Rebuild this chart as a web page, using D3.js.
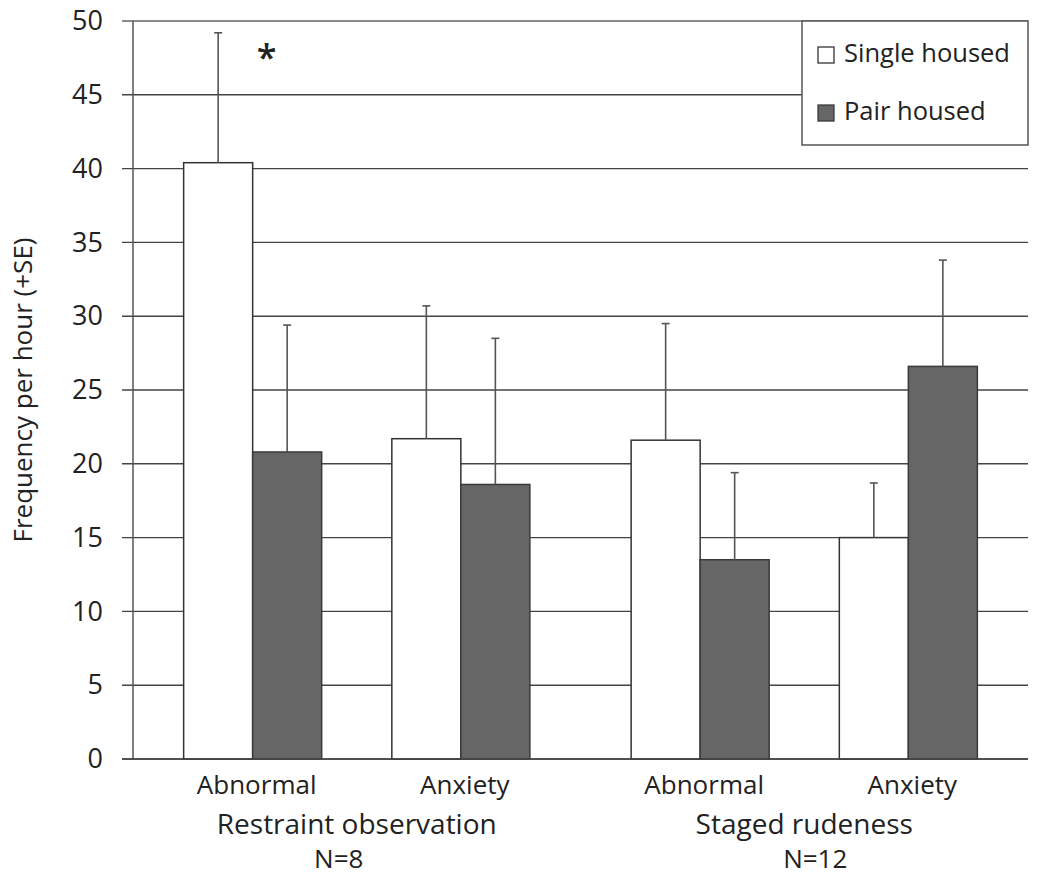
<!DOCTYPE html>
<html>
<head>
<meta charset="utf-8">
<script src="https://cdn.jsdelivr.net/npm/d3@7"></script>
<style>
  body { margin: 0; background: #fff; }
  text { font-family: "Open Sans", sans-serif; fill: #222; }
</style>
</head>
<body>
<div id="chart"></div>
<script>
(function() {

  var groups = ['Restraint observation', 'Staged rudeness'];
  var groupN = ['N=8', 'N=12'];
  var behaviours = ['Abnormal', 'Anxiety'];
  var series = ['Single housed', 'Pair housed'];

  // mean frequency per hour, order: [group][behaviour]
  var singleMeans = [[40.4, 21.7], [21.6, 15.0]];
  var singleSE = [[8.8, 9.0], [7.9, 3.7]];
  var pairMeans = [[20.8, 18.6], [13.5, 26.6]];
  var pairSE = [[8.6, 9.9], [5.9, 7.2]];

  var yTicks = [0, 5, 10, 15, 20, 25, 30, 35, 40, 45, 50];

  var rows = [];
  groups.forEach(function(g, gi) {
    behaviours.forEach(function(b, bi) {
      rows.push({group: g, behaviour: b, series: series[0], mean: singleMeans[gi][bi], se: singleSE[gi][bi]});
      rows.push({group: g, behaviour: b, series: series[1], mean: pairMeans[gi][bi], se: pairSE[gi][bi]});
    });
  });

  var width = 1050, height = 889;
  var left = 133, right = 1028, top = 21, bottom = 759;

  var svg = d3.select('#chart').append('svg')
    .attr('width', width)
    .attr('height', height);

  var y = d3.scaleLinear().domain([0, 50]).range([bottom, top]);

  var outer = d3.scaleBand().domain(groups).range([left, right])
    .paddingInner(0.07).paddingOuter(0.035);
  var inner = d3.scaleBand().domain(behaviours).range([0, outer.bandwidth()])
    .paddingInner(0.337).paddingOuter(0.168);
  var sx = d3.scaleBand().domain(series).range([0, inner.bandwidth()]);
  var fill = d3.scaleOrdinal().domain(series).range(['#ffffff', '#666666']);
  var stroke = d3.scaleOrdinal().domain(series).range(['#333333', '#3a3a3a']);

  function barX(d) { return outer(d.group) + inner(d.behaviour) + sx(d.series); }

  // gridlines
  svg.append('g').selectAll('line')
    .data(yTicks)
    .enter()
    .append('line')
    .attr('x1', left - 11)
    .attr('x2', right)
    .attr('y1', function(d) { return y(d); })
    .attr('y2', function(d) { return y(d); })
    .attr('stroke', function(d) { return d === 50 ? '#8a8a8a' : '#444'; })
    .attr('stroke-width', function(d) { return d === 50 ? 2 : 1.4; });

  // y axis labels
  var yAxis = d3.axisLeft(y).tickValues(yTicks).tickSize(0).tickPadding(30);
  var ya = svg.append('g').attr('transform', 'translate(' + left + ',0)').call(yAxis);
  ya.select('.domain').remove();
  ya.selectAll('text').attr('font-size', 27).style('font-family', '"Open Sans", sans-serif').attr('fill', '#222');

  svg.append('line')
    .attr('x1', left).attr('x2', left)
    .attr('y1', top).attr('y2', bottom)
    .attr('stroke', '#555').attr('stroke-width', 1.5);

  // bars
  svg.append('g').selectAll('rect')
    .data(rows)
    .enter()
    .append('rect')
    .attr('x', barX)
    .attr('y', function(d) { return y(d.mean); })
    .attr('width', sx.bandwidth())
    .attr('height', function(d) { return y(0) - y(d.mean); })
    .attr('fill', function(d) { return fill(d.series); })
    .attr('stroke', function(d) { return stroke(d.series); })
    .attr('stroke-width', 1.5);

  // error bars
  var err = svg.append('g').selectAll('g')
    .data(rows)
    .enter()
    .append('g')
    .attr('stroke', '#555')
    .attr('stroke-width', 1.6);
  err.append('line')
    .attr('x1', function(d) { return barX(d) + sx.bandwidth() / 2; })
    .attr('x2', function(d) { return barX(d) + sx.bandwidth() / 2; })
    .attr('y1', function(d) { return y(d.mean); })
    .attr('y2', function(d) { return y(d.mean + d.se); });
  err.append('line')
    .attr('x1', function(d) { return barX(d) + sx.bandwidth() / 2 - 4; })
    .attr('x2', function(d) { return barX(d) + sx.bandwidth() / 2 + 4; })
    .attr('y1', function(d) { return y(d.mean + d.se); })
    .attr('y2', function(d) { return y(d.mean + d.se); });

  // axis baseline on top of bars
  svg.append('line')
    .attr('x1', left - 11).attr('x2', right)
    .attr('y1', y(0)).attr('y2', y(0))
    .attr('stroke', '#444').attr('stroke-width', 1.5);

  // significance marker
  svg.append('text')
    .attr('x', barX(rows[0]) + sx.bandwidth() + 14)
    .attr('y', y(46.7))
    .attr('text-anchor', 'middle')
    .attr('font-size', 36)
    .attr('font-weight', 600)
    .text('*');

  // category labels
  var labels = [];
  groups.forEach(function(g) {
    behaviours.forEach(function(b) { labels.push({group: g, behaviour: b}); });
  });
  svg.append('g').selectAll('text')
    .data(labels)
    .enter()
    .append('text')
    .attr('x', function(d) { return outer(d.group) + inner(d.behaviour) + inner.bandwidth() / 2 + 4; })
    .attr('y', 794)
    .attr('text-anchor', 'middle')
    .attr('font-size', 26)
    .text(function(d) { return d.behaviour; });

  svg.append('g').selectAll('text')
    .data(groups)
    .enter()
    .append('text')
    .attr('x', function(d) { return outer(d) + outer.bandwidth() / 2; })
    .attr('y', 834)
    .attr('text-anchor', 'middle')
    .attr('font-size', 28)
    .text(function(d) { return d; });

  var nShift = [-18, 11];
  svg.append('g').selectAll('text')
    .data(groupN)
    .enter()
    .append('text')
    .attr('x', function(d, i) { return outer(groups[i]) + outer.bandwidth() / 2 + nShift[i]; })
    .attr('y', 868)
    .attr('text-anchor', 'middle')
    .attr('font-size', 26)
    .text(function(d) { return d; });

  // y title
  svg.append('text')
    .attr('transform', 'translate(32,' + (top + bottom) / 2 + ') rotate(-90)')
    .attr('text-anchor', 'middle')
    .attr('font-size', 26)
    .text('Frequency per hour (+SE)');

  // legend
  var lg = svg.append('g');
  lg.append('rect')
    .attr('x', 802).attr('y', top)
    .attr('width', right - 802).attr('height', 124)
    .attr('fill', '#fff').attr('stroke', '#555').attr('stroke-width', 1.5);
  var items = lg.selectAll('g.item')
    .data(series)
    .enter()
    .append('g')
    .attr('class', 'item')
    .attr('transform', function(d, i) { return 'translate(818,' + (47 + i * 58) + ')'; });
  items.append('rect')
    .attr('width', 16).attr('height', 16)
    .attr('fill', function(d) { return fill(d); })
    .attr('stroke', function(d) { return stroke(d); })
    .attr('stroke-width', 1.3);
  items.append('text')
    .attr('x', 26).attr('y', 15)
    .attr('font-size', 25.5)
    .text(function(d) { return d; });

})();
</script>
</body>
</html>
